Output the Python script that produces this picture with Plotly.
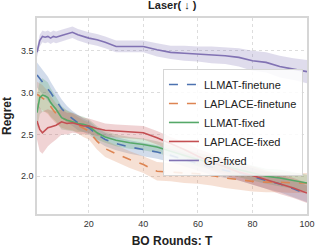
import plotly.graph_objects as go

rounds = [1, 2, 3, 4, 5, 6, 7, 8, 10, 12, 14, 16, 18, 20, 23, 26, 30, 35, 40, 45, 50,
          55, 60, 65, 70, 75, 80, 85, 90, 95, 100]

llmat_ft = [3.21, 3.17, 3.13, 3.09, 3.05, 3.00, 2.95, 2.90, 2.81, 2.74, 2.69, 2.64, 2.61, 2.58,
            2.50, 2.44, 2.39, 2.35, 2.32, 2.29, 2.25, 2.20, 2.15, 2.11, 2.07, 2.04, 2.00, 1.95,
            1.91, 1.85, 1.79]
llmat_ft_sd = [0.15, 0.15, 0.15, 0.14, 0.14, 0.13, 0.12, 0.12, 0.11, 0.10, 0.09, 0.09, 0.08, 0.08,
               0.08, 0.08, 0.08, 0.08, 0.08, 0.08, 0.08, 0.08, 0.08, 0.09, 0.09, 0.09, 0.10, 0.10,
               0.10, 0.10, 0.10]

laplace_ft = [2.98, 2.96, 2.94, 2.91, 2.88, 2.83, 2.79, 2.75, 2.70, 2.67, 2.65, 2.61, 2.57, 2.54,
              2.42, 2.33, 2.27, 2.20, 2.14, 2.06, 2.05, 2.04, 2.03, 2.01, 1.98, 1.96, 1.94, 1.93,
              1.93, 1.92, 1.92]
laplace_ft_sd = [0.15, 0.15, 0.15, 0.14, 0.14, 0.13, 0.13, 0.12, 0.12, 0.11, 0.10, 0.10, 0.10, 0.10,
                 0.10, 0.10, 0.10, 0.10, 0.10, 0.11, 0.11, 0.12, 0.12, 0.12, 0.12, 0.12, 0.12, 0.12,
                 0.12, 0.12, 0.12]

llmat_fx = [2.76, 2.94, 2.97, 2.96, 2.94, 2.88, 2.84, 2.80, 2.70, 2.67, 2.65, 2.63, 2.62, 2.60,
            2.52, 2.47, 2.43, 2.40, 2.38, 2.35, 2.30, 2.25, 2.20, 2.16, 2.12, 2.08, 2.04, 2.00,
            1.98, 1.95, 1.92]
llmat_fx_sd = [0.20, 0.20, 0.20, 0.19, 0.18, 0.17, 0.16, 0.15, 0.14, 0.12, 0.11, 0.10, 0.09, 0.08,
               0.08, 0.07, 0.07, 0.07, 0.07, 0.07, 0.07, 0.08, 0.08, 0.08, 0.08, 0.09, 0.09, 0.09,
               0.10, 0.10, 0.10]

laplace_fx = [2.66, 2.56, 2.52, 2.55, 2.58, 2.59, 2.60, 2.61, 2.65, 2.63, 2.64, 2.62, 2.60, 2.60,
              2.57, 2.55, 2.54, 2.53, 2.52, 2.46, 2.39, 2.32, 2.24, 2.17, 2.11, 2.05, 2.01, 1.96,
              1.91, 1.86, 1.80]
laplace_fx_sd = [0.22, 0.26, 0.25, 0.24, 0.22, 0.20, 0.18, 0.17, 0.15, 0.13, 0.12, 0.11, 0.10, 0.09,
                 0.09, 0.08, 0.08, 0.08, 0.08, 0.08, 0.08, 0.09, 0.09, 0.10, 0.10, 0.10, 0.11, 0.11,
                 0.12, 0.12, 0.12]

gp_fx = [3.48, 3.62, 3.67, 3.66, 3.67, 3.65, 3.67, 3.66, 3.68, 3.70, 3.72, 3.69, 3.67, 3.65,
         3.63, 3.60, 3.55, 3.55, 3.55, 3.51, 3.48, 3.47, 3.46, 3.45, 3.44, 3.42, 3.38, 3.36,
         3.31, 3.28, 3.25]
gp_fx_sd = [0.06, 0.07, 0.07, 0.07, 0.07, 0.07, 0.07, 0.07, 0.07, 0.07, 0.07, 0.07, 0.07, 0.07,
            0.07, 0.07, 0.07, 0.07, 0.07, 0.08, 0.08, 0.09, 0.09, 0.10, 0.10, 0.11, 0.12, 0.12,
            0.13, 0.13, 0.14]

series = [
    ("LLMAT-finetune", llmat_ft, llmat_ft_sd, (76, 114, 176), "dash"),
    ("LAPLACE-finetune", laplace_ft, laplace_ft_sd, (221, 132, 82), "dash"),
    ("LLMAT-fixed", llmat_fx, llmat_fx_sd, (85, 168, 104), "solid"),
    ("LAPLACE-fixed", laplace_fx, laplace_fx_sd, (196, 78, 82), "solid"),
    ("GP-fixed", gp_fx, gp_fx_sd, (129, 114, 179), "solid"),
]

fig = go.Figure()
for name, mean, sd, c, dash in series:
    upper = [m + s for m, s in zip(mean, sd)]
    lower = [m - s for m, s in zip(mean, sd)]
    fig.add_trace(go.Scatter(
        x=rounds + rounds[::-1], y=upper + lower[::-1], fill="toself",
        fillcolor=f"rgba({c[0]},{c[1]},{c[2]},0.25)", line=dict(width=0),
        hoverinfo="skip", showlegend=False))
for name, mean, sd, c, dash in series:
    fig.add_trace(go.Scatter(
        x=rounds, y=mean, mode="lines", name=name,
        line=dict(color=f"rgb({c[0]},{c[1]},{c[2]})", width=1.6, dash=dash)))

axis_common = dict(
    showgrid=True, gridcolor="#dddddd", griddash="dot", gridwidth=1,
    showline=True, mirror=True, linecolor="#d6d6d6", linewidth=1.5,
    ticks="", zeroline=False, automargin=False, ticklabeloverflow="allow",
    tickfont=dict(family="Liberation Sans, Arial", size=9, color="#333333"),
)

fig.update_layout(
    width=319, height=248,
    margin=dict(l=37, r=12, t=18, b=34),
    paper_bgcolor="white", plot_bgcolor="white",
    title=dict(text="<b>Laser( ↓ )</b>", x=0.54, xanchor="center", y=0.995, yanchor="top",
               font=dict(family="Liberation Sans, Arial", size=11, color="#222222")),
    xaxis=dict(range=[1, 100], tickvals=[20, 40, 60, 80, 100],
               title=dict(text="<b>BO Rounds: T</b>",
                          font=dict(family="Liberation Sans, Arial", size=12, color="#222222")),
               **axis_common),
    yaxis=dict(range=[1.55, 3.89], tickvals=[2.0, 2.5, 3.0, 3.5], tickformat=".1f",
               title=dict(text="<b>Regret</b>",
                          font=dict(family="Liberation Sans, Arial", size=12, color="#222222")),
               **axis_common),
    legend=dict(x=0.985, xanchor="right", y=0.74, yanchor="top",
                bgcolor="rgba(255,255,255,0.85)", bordercolor="#d6d6d6", borderwidth=1,
                font=dict(family="Liberation Sans, Arial", size=11, color="#222222"),
                itemwidth=30, tracegroupgap=0),
    showlegend=True,
)

fig.write_html("out.html", config={"displayModeBar": False},
               post_script="document.body.style.margin='0';")
